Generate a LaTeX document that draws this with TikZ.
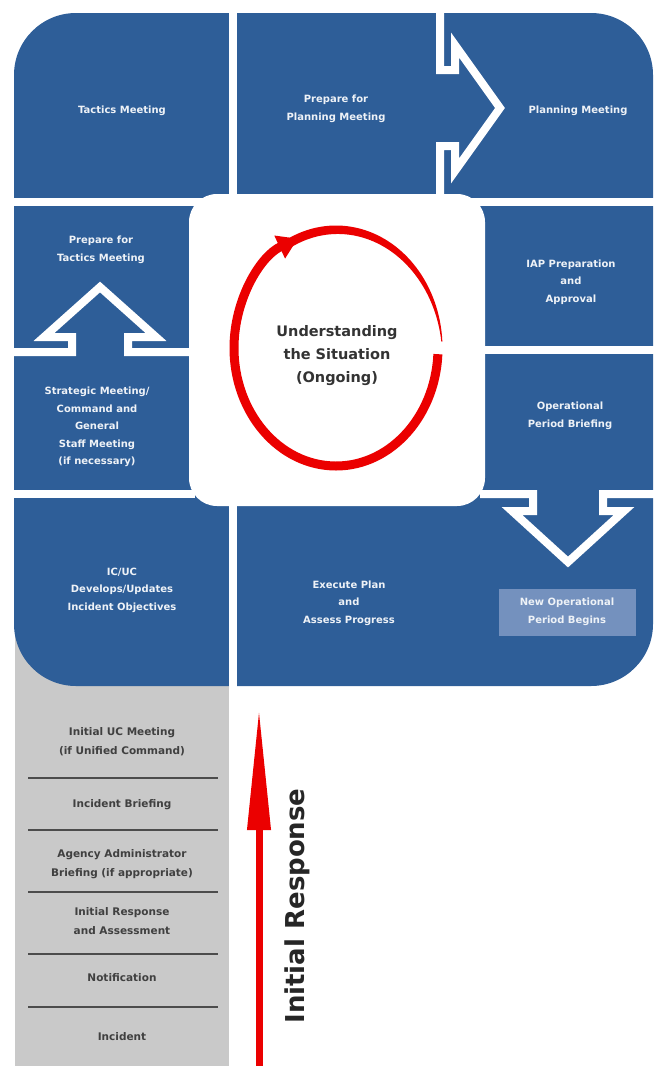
\documentclass[tikz,border=0pt]{standalone}
\usepackage{fontspec}
\setmainfont{DejaVu Sans}
\usetikzlibrary{arrows.meta}
\definecolor{cellblue}{RGB}{46,94,152}
\definecolor{periodblue}{RGB}{116,145,190}
\definecolor{stepgray}{RGB}{201,201,201}
\definecolor{ringred}{RGB}{235,0,0}

\begin{document}
\begin{tikzpicture}[x=1pt,y=-1pt,
  cell node/.style={text=white!92!cellblue,font=\fontsize{10}{17.5}\selectfont\bfseries,align=center},
  step node/.style={text=black!75,font=\fontsize{10.5}{19}\selectfont\bfseries,align=center},
  gap/.style={draw=white,line width=8pt},
  step line/.style={draw=black!70,line width=1.5pt}]
  \useasboundingbox (0,0) rectangle (654,1066);

  \fill[stepgray] (15,620) rectangle (229,1066);
  \fill[cellblue,rounded corners=62pt] (14,13) rectangle (653,686);

  \draw[gap] (233,8) -- (233,202);
  \draw[gap] (233,500) -- (233,690);
  \draw[gap] (8,202) -- (660,202);
  \draw[gap] (8,494) -- (195,494);
  \draw[gap] (440,8) -- (440,70) -- (455,70) -- (455,45) -- (500,108) -- (455,171) -- (455,146) -- (440,146) -- (440,202);
  \draw[gap] (8,352) -- (72,352) -- (72,337) -- (44,337) -- (100,287) -- (156,337) -- (128,337) -- (128,352) -- (195,352);
  \draw[gap] (480,350) -- (660,350);
  \draw[gap] (480,494) -- (533,494) -- (533,511) -- (512,511) -- (568,562) -- (624,511) -- (603,511) -- (603,494) -- (660,494);

  \fill[white,rounded corners=28pt] (189,194) rectangle (485,506);

  \node[cell node] (tactics) at (122,111) {Tactics Meeting};
  \node[cell node] (prep plan) at (336,109) {Prepare for\\Planning Meeting};
  \node[cell node] (planning) at (578,111) {Planning Meeting};
  \node[cell node] (prep tact) at (101,250) {Prepare for\\Tactics Meeting};
  \node[cell node] (strategic) at (97,427) {Strategic Meeting/\\Command and\\General\\Staff Meeting\\(if necessary)};
  \node[cell node] (iap) at (571,282) {IAP Preparation\\and\\Approval};
  \node[cell node] (briefing) at (570,416) {Operational\\Period Briefing};
  \node[cell node] (objectives) at (122,590) {IC/UC\\Develops/Updates\\Incident Objectives};
  \node[cell node] (execute) at (349,603) {Execute Plan\\and\\Assess Progress};
  \node[cell node,fill=periodblue,minimum width=137pt,minimum height=47pt] (new period) at (567,612) {New Operational\\Period Begins};

  \coordinate (ring) at (336,348);
  \draw[ringred,line width=9pt,-{Triangle[length=20pt,width=24pt]}] ([shift={(3:102 and 118)}]ring) arc[start angle=3,end angle=248,x radius=102,y radius=118];
  \fill[ringred] plot[domain=240:357,samples=50] ({336+106.5*cos(\x)},{348+122.5*sin(\x)}) -- plot[domain=357:240,samples=50] ({336+(97.5+8*((\x-240)/117)^2)*cos(\x)},{348+(113.5+8*((\x-240)/117)^2)*sin(\x)}) -- cycle;
  \node[text=black!80,font=\fontsize{14.5}{23}\selectfont\bfseries,align=center] (situation) at (337,356) {Understanding\\the Situation\\(Ongoing)};

  \foreach \y in {778,830,892,954,1007} \draw[step line] (28,\y) -- (218,\y);
  \node[step node] (uc meeting) at (122,742) {Initial UC Meeting\\(if Unified Command)};
  \node[step node] (inc briefing) at (122,805) {Incident Briefing};
  \node[step node] (agency) at (122,864) {Agency Administrator\\Briefing (if appropriate)};
  \node[step node] (assessment) at (122,921) {Initial Response\\and Assessment};
  \node[step node] (notification) at (122,978) {Notification};
  \node[step node] (incident) at (122,1037) {Incident};

  \coordinate (resp start) at (259,1066);
  \coordinate (resp end) at (259,708);
  \draw[ringred,line width=7pt,-{Triangle[length=122pt,width=22pt]}] (resp start) -- (resp end);
  \node[rotate=90,text=black!85,font=\fontsize{26}{30}\selectfont\bfseries] (response) at (297,906) {Initial Response};
\end{tikzpicture}
\end{document}
